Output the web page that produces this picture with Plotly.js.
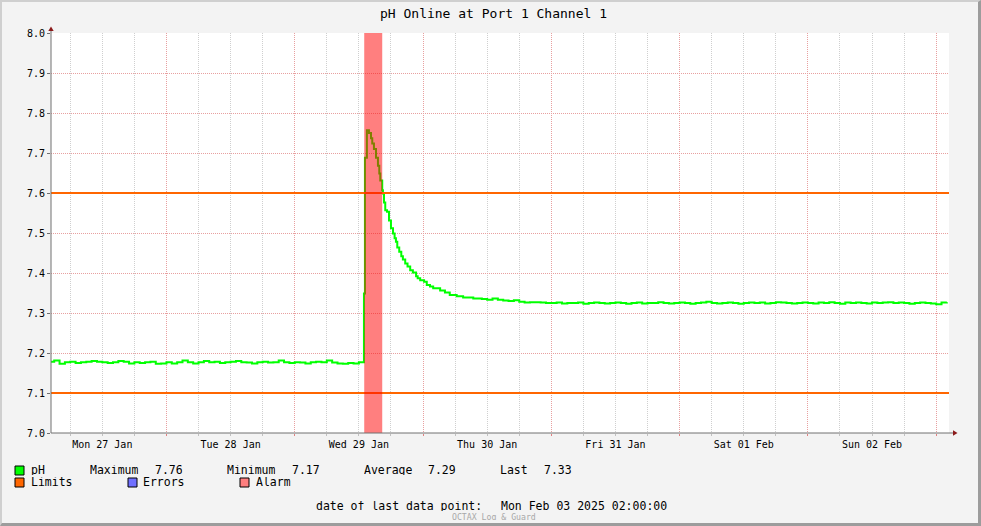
<!DOCTYPE html>
<html>
<head>
<meta charset="utf-8">
<script src="https://cdn.plot.ly/plotly-3.0.1.min.js"></script>
<style>
  html, body { margin: 0; padding: 0; background: #f3f3f3; }
  #wrap { position: relative; width: 981px; height: 526px; }
  #chart { width: 981px; height: 526px; }
  #frame { position: absolute; left: 0; top: 0; width: 981px; height: 526px; box-sizing: border-box;
           border-top: 2px solid #cfcfcf; border-left: 2px solid #cfcfcf;
           border-right: 3px solid #9c9c9c; border-bottom: 3px solid #9c9c9c; pointer-events: none; }
</style>
</head>
<body>
<div id="wrap"><div id="chart"></div><div id="frame"></div></div>
<script>
// ---------------- DATA ----------------
const chartTitle = 'pH Online at Port 1 Channel 1';
const xRange = ['2025-01-27 02:24', '2025-02-03 02:24'];

// Before the event: hourly samples from Jan 27 02:00 to Jan 29 12:00
const baseStart = '2025-01-27T02:00';
const baseValues = [
  7.178, 7.181, 7.173, 7.177, 7.178, 7.175, 7.177, 7.178, 7.180, 7.178,
  7.177, 7.175, 7.177, 7.180, 7.178, 7.174, 7.177, 7.175, 7.177, 7.178,
  7.173, 7.174, 7.177, 7.174, 7.177, 7.181, 7.177, 7.174, 7.177, 7.180,
  7.177, 7.178, 7.175, 7.177, 7.178, 7.180, 7.177, 7.176, 7.174, 7.177,
  7.178, 7.176, 7.177, 7.181, 7.177, 7.175, 7.177, 7.176, 7.174, 7.177,
  7.178, 7.177, 7.181, 7.176, 7.174, 7.173, 7.175, 7.174, 7.177
];

// The spike and decay (irregular sample times)
const spikeTimes = [
  '2025-01-29 12:57', '2025-01-29 13:08', '2025-01-29 13:30', '2025-01-29 13:53',
  '2025-01-29 14:16', '2025-01-29 14:30', '2025-01-29 14:49', '2025-01-29 15:12',
  '2025-01-29 15:34', '2025-01-29 15:49', '2025-01-29 16:00', '2025-01-29 16:22',
  '2025-01-29 16:30', '2025-01-29 16:42', '2025-01-29 16:56', '2025-01-29 17:16',
  '2025-01-29 17:38', '2025-01-29 18:00', '2025-01-29 18:23', '2025-01-29 18:41',
  '2025-01-29 18:56', '2025-01-29 19:11', '2025-01-29 19:33', '2025-01-29 19:56',
  '2025-01-29 20:14', '2025-01-29 20:40', '2025-01-29 21:06', '2025-01-29 21:36',
  '2025-01-29 22:06', '2025-01-29 22:42', '2025-01-29 23:00', '2025-01-29 23:28',
  '2025-01-30 00:12', '2025-01-30 00:42', '2025-01-30 01:18', '2025-01-30 01:54',
  '2025-01-30 03:12', '2025-01-30 04:06', '2025-01-30 05:00', '2025-01-30 06:18',
  '2025-01-30 07:30', '2025-01-30 09:24'
];
const spikeValues = [
  7.349, 7.688, 7.757, 7.750, 7.737, 7.724, 7.710, 7.688,
  7.668, 7.649, 7.631, 7.607, 7.599, 7.576, 7.557, 7.553,
  7.531, 7.512, 7.499, 7.487, 7.478, 7.464, 7.453, 7.442,
  7.434, 7.424, 7.416, 7.407, 7.401, 7.392, 7.387, 7.382,
  7.378, 7.370, 7.366, 7.362, 7.356, 7.351, 7.345, 7.342,
  7.339, 7.336
];

// After the event: hourly samples from Jan 30 10:00 to Feb 03 02:00
const tailStart = '2025-01-30T10:00';
const tailValues = [
  7.336, 7.335, 7.333, 7.336, 7.333, 7.331, 7.330, 7.332, 7.328, 7.326, 7.327, 7.327, 7.326, 7.325,
  7.325, 7.326, 7.324, 7.325, 7.325, 7.326, 7.323, 7.325, 7.326, 7.325, 7.324, 7.325,
  7.326, 7.325, 7.323, 7.325, 7.326, 7.324, 7.325, 7.325, 7.327, 7.325, 7.324, 7.325,
  7.326, 7.325, 7.323, 7.325, 7.326, 7.328, 7.325, 7.324, 7.325, 7.326, 7.325, 7.323,
  7.325, 7.326, 7.325, 7.326, 7.324, 7.325, 7.327, 7.326, 7.325, 7.324, 7.325, 7.326,
  7.325, 7.324, 7.326, 7.325, 7.327, 7.325, 7.323, 7.326, 7.325, 7.326, 7.325, 7.324,
  7.326, 7.325, 7.326, 7.327, 7.325, 7.326, 7.325, 7.323, 7.325, 7.326, 7.325, 7.324,
  7.322, 7.326, 7.327
];

const limitHigh = 7.6;
const limitLow = 7.1;
const alarmStart = '2025-01-29 13:00';
const alarmEnd = '2025-01-29 16:22';
const yMin = 7.0, yMax = 8.0;

const statLabels = ['Maximum', 'Minimum', 'Average', 'Last'];
const statValues = ['7.76', '7.17', '7.29', '7.33'];
const legendNames = ['pH', 'Limits', 'Errors', 'Alarm'];
const lastDateLabel = 'date of last data point:';
const lastDateValue = 'Mon Feb 03 2025 02:00:00';
const footer = 'OCTAX Log & Guard';

// ---------------- BUILD ----------------
function hourlyTimes(start, n) {
  const t0 = Date.parse(start + ':00Z');
  return Array.from({length: n}, (_, i) =>
    new Date(t0 + i * 3600e3).toISOString().slice(0, 16).replace('T', ' '));
}
const phX = hourlyTimes(baseStart, baseValues.length)
  .concat(spikeTimes)
  .concat(hourlyTimes(tailStart, tailValues.length));
const phY = baseValues.concat(spikeValues).concat(tailValues);

const FONT = 'DejaVu Sans Mono';
const L = 51, R = 949, T = 33, B = 433;
const px = x => (x - L) / (R - L);
const py = y => (B - y) / (B - T);

const COL_PH = '#00ff00', COL_LIM = '#ff6600', COL_ERR = '#7070ff', COL_ALARM = '#ff7f7f';

const traces = [
  { x: phX, y: phY, type: 'scatter', mode: 'lines', line: {color: COL_PH, width: 2, shape: 'hv'}, hoverinfo: 'skip' },
  { x: xRange, y: [limitHigh, limitHigh], type: 'scatter', mode: 'lines', line: {color: COL_LIM, width: 2}, hoverinfo: 'skip' },
  { x: xRange, y: [limitLow, limitLow], type: 'scatter', mode: 'lines', line: {color: COL_LIM, width: 2}, hoverinfo: 'skip' },
  { x: [alarmStart, alarmStart, alarmEnd, alarmEnd], y: [yMin, yMax, yMax, yMin], type: 'scatter', mode: 'lines',
    fill: 'toself', fillcolor: 'rgba(255,0,0,0.5)', line: {width: 0, color: 'rgba(0,0,0,0)'}, hoverinfo: 'skip' }
];

const shapes = [
  // axis lines
  { type: 'line', xref: 'paper', yref: 'paper', x0: 0, x1: 0, y0: 0, y1: py(30), line: {color: '#707070', width: 1} },
  { type: 'line', xref: 'paper', yref: 'paper', x0: 0, x1: px(954), y0: 0, y1: 0, line: {color: '#707070', width: 1} },
  // arrows
  { type: 'path', xref: 'paper', yref: 'paper',
    path: `M ${px(48.3)} ${py(31)} L ${px(53.7)} ${py(31)} L ${px(51)} ${py(26.5)} Z`,
    fillcolor: '#8b1a1a', line: {width: 0} },
  { type: 'path', xref: 'paper', yref: 'paper',
    path: `M ${px(953)} ${py(430.3)} L ${px(953)} ${py(435.7)} L ${px(957.5)} ${py(433)} Z`,
    fillcolor: '#8b1a1a', line: {width: 0} }
];
const boxes = [
  {x: 15, y: 466, c: COL_PH}, {x: 15, y: 478, c: COL_LIM},
  {x: 128, y: 478, c: COL_ERR}, {x: 240, y: 478, c: COL_ALARM}
];
boxes.forEach(b => shapes.push({ type: 'rect', xref: 'paper', yref: 'paper',
  x0: px(b.x), x1: px(b.x + 9), y0: py(b.y), y1: py(b.y + 9),
  fillcolor: b.c, line: {color: '#000', width: 1} }));

const annotations = [];
function txt(t, x, y, size, color, h) {
  annotations.push({ text: t, xref: 'paper', yref: 'paper', x: px(x), y: py(y),
    xanchor: 'left', yanchor: 'middle', showarrow: false, borderpad: 0, height: h || 10,
    font: {family: FONT, size: size || 11.5, color: color || '#000'} });
}
txt(legendNames[0], 30, 470);
const statX = [[88.7, 153.7], [225.7, 290.7], [362.7, 427], [499.3, 543.3]];
statLabels.forEach((s, i) => { txt(s, statX[i][0], 470); txt(statValues[i], statX[i][1], 470); });
txt(legendNames[1], 30, 482);
txt(legendNames[2], 142.3, 482);
txt(legendNames[3], 254.7, 482);
txt(lastDateLabel, 315.3, 506);
txt(lastDateValue, 499.7, 506);
txt(footer, 450.7, 516, 8.2, '#a8a8a8', 7);

const layout = {
  width: 981, height: 526,
  margin: {l: L, r: 981 - R, t: T, b: 526 - B, pad: 0},
  paper_bgcolor: '#f3f3f3', plot_bgcolor: '#ffffff',
  showlegend: false,
  title: { text: chartTitle, font: {family: FONT, size: 13, color: '#000'},
           xref: 'container', yref: 'container', x: 493.5 / 981, xanchor: 'center', y: 1 - 13.5 / 526, yanchor: 'middle' },
  xaxis: {
    type: 'date', range: xRange, fixedrange: true,
    dtick: 86400000, tick0: '2025-01-27 00:00', ticklabelmode: 'period', tickformat: '%a %d %b',
    showgrid: true, gridcolor: '#e8a0a0', griddash: '1px,1px', gridwidth: 1,
    ticks: 'outside', ticklen: 2, tickcolor: '#e08080',
    minor: { dtick: 21600000, tick0: '2025-01-27 00:00', showgrid: true, gridcolor: '#cfcfcf', griddash: '1px,1px',
             ticks: 'outside', ticklen: 2, tickcolor: '#c0c0c0' },
    showline: false, zeroline: false,
    tickfont: {family: FONT, size: 10, color: '#000'}
  },
  yaxis: {
    range: [yMin, yMax], fixedrange: true, dtick: 0.1, tick0: 7.0, tickformat: '.1f',
    showgrid: true, gridcolor: '#e8a0a0', griddash: '1px,1px', gridwidth: 1,
    ticks: 'outside', ticklen: 3, tickcolor: '#707070',
    showline: false, zeroline: false,
    tickfont: {family: FONT, size: 10, color: '#000'}
  },
  shapes: shapes,
  annotations: annotations
};

Plotly.newPlot('chart', traces, layout, {displayModeBar: false, staticPlot: true});
</script>
</body>
</html>
